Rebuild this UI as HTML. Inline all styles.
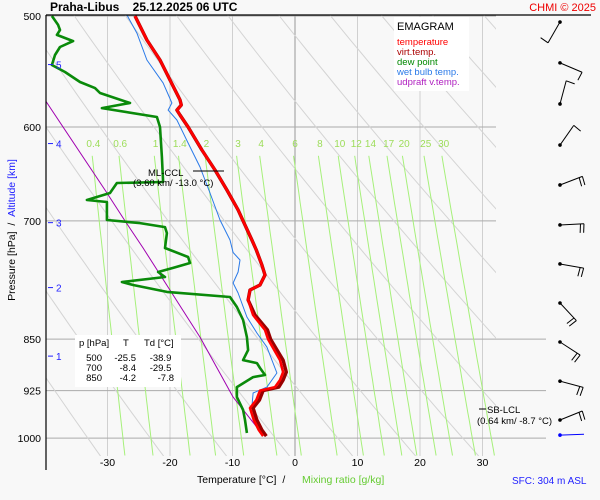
<!DOCTYPE html>
<html><head><meta charset="utf-8"><style>
html,body{margin:0;padding:0;background:#f8f8f8;}
svg{display:block;font-family:"Liberation Sans",sans-serif;}
</style></head><body>
<svg id="chart" width="600" height="500" viewBox="0 0 600 500" xmlns="http://www.w3.org/2000/svg">
<rect x="0" y="0" width="600" height="500" fill="#f8f8f8"/>
<defs><clipPath id="plotclip"><rect x="46" y="15" width="450" height="441"/></clipPath>
<clipPath id="mixclip"><rect x="46" y="150" width="500" height="306"/></clipPath></defs>
<g id="grid"></g>
<g id="series"></g>
<g id="labels"></g>
<text x="50" y="11" font-size="12" font-weight="bold" fill="#000">Praha-Libus&#160;&#160;&#160;&#160;25.12.2025 06 UTC</text>
<text x="596" y="11" font-size="11" fill="#e00" text-anchor="end">CHMI © 2025</text>
<line x1="46" y1="15" x2="591" y2="15" stroke="#000" stroke-width="1.2"/>
<line x1="46" y1="15" x2="46" y2="470" stroke="#000" stroke-width="1.2"/>
<g>
<rect x="394" y="17" width="75" height="74" fill="#fff"/>
<text x="397" y="30" font-size="11" fill="#000">EMAGRAM</text>
<text x="397" y="45" font-size="9.5" fill="#f00">temperature</text>
<text x="397" y="55" font-size="9.5" fill="#a00">virt.temp.</text>
<text x="397" y="65" font-size="9.5" fill="#080">dew point</text>
<text x="397" y="75" font-size="9.5" fill="#2a7ae8">wet bulb temp.</text>
<text x="397" y="85" font-size="9.5" fill="#b020c0">udpraft v.temp.</text>
</g>
<g>
<rect x="75" y="335" width="106" height="52" fill="#fff"/>
<text font-size="9.5" fill="#000"><tspan x="79" y="346">p [hPa]</tspan><tspan x="123" y="346">T</tspan><tspan x="144" y="346">Td [°C]</tspan></text>
<text font-size="9.5" fill="#000" text-anchor="end"><tspan x="102" y="361">500</tspan><tspan x="136" y="361">-25.5</tspan><tspan x="174" y="361">-38.9</tspan>
<tspan x="102" y="371">700</tspan><tspan x="136" y="371">-8.4</tspan><tspan x="174" y="371">-29.5</tspan>
<tspan x="102" y="381">850</tspan><tspan x="136" y="381">-4.2</tspan><tspan x="174" y="381">-7.8</tspan></text>
</g>
<g>
<line x1="193" y1="171" x2="224" y2="171" stroke="#000" stroke-width="1"/>
<text x="148" y="176" font-size="9.5" fill="#000">ML-CCL</text>
<text x="133" y="186" font-size="9.5" fill="#000">(3.60 km/ -13.0 °C)</text>
</g>
<g>
<line x1="479" y1="409" x2="486" y2="409" stroke="#000" stroke-width="1"/>
<text x="487" y="413" font-size="9.5" fill="#000">SB-LCL</text>
<text x="477" y="424" font-size="9.5" fill="#000">(0.64 km/ -8.7 °C)</text>
</g>
<text x="197" y="483" font-size="10.5" fill="#000">Temperature [°C]&#160;&#160;/</text>
<text x="302" y="483" font-size="10.5" fill="#6c3">Mixing ratio [g/kg]</text>
<text x="512" y="484" font-size="10" fill="#22f">SFC: 304 m ASL</text>
<text transform="translate(15,230) rotate(-90)" font-size="10.5" text-anchor="middle"><tspan fill="#000">Pressure [hPa]&#160;&#160;/&#160;&#160;</tspan><tspan fill="#22f">Altitude [km]</tspan></text>
<g id="barbs"></g>
</svg>
<script>
const pressureTicks=[500,600,700,850,925,1000];
const tempTicks=[-30,-20,-10,0,10,20,30];
const mixRatios=[0.4,0.6,1,1.4,2,3,4,6,8,10,12,14,17,20,25,30];
const thetas=[230,240,250,260,270,280,290,300,310,320,330,340,350,360,370,380,390,400];
const altKm=[5,4,3,2,1];
const altP=[541.5,616.5,702,781,874];
const tempP=[500,520.1,537.5,555.4,573.9,578.7,583.5,588.3,600,623.1,643.9,665.4,687.5,700,722.3,734.2,752.6,765,777.7,784.1,797.1,817,837.3,850,879.7,897.2,909.1,919.6,925,939.4,951.8,970.7,986.8,996.6];
const tempT=[-25.6,-23.7,-21.6,-20.0,-18.4,-18.2,-18.9,-18.4,-17.1,-14.9,-12.8,-10.9,-9.1,-8.3,-6.9,-6.2,-5.3,-4.8,-5.6,-7.2,-7.5,-6.7,-4.8,-4.3,-2.4,-1.9,-2.4,-3.2,-5.6,-6.2,-7.2,-6.6,-5.8,-5.1];
const virtT=[-25.6,-23.7,-21.6,-20.0,-18.4,-18.2,-18.9,-18.4,-17.1,-14.9,-12.8,-10.9,-9.1,-8.3,-6.9,-6.2,-5.3,-4.8,-5.6,-7.2,-7.5,-6.4,-4.4,-3.9,-1.9,-1.4,-1.9,-2.6,-5.1,-5.7,-6.7,-6.1,-5.3,-4.6];
const dewP=[500,507.4,511.6,515.8,521,526.1,533.1,541.9,548.2,557.2,562.8,567.4,576.8,581.6,590.2,600,630.3,656.7,657.8,668.6,676.4,678.6,699,702.5,707.1,714.1,731.8,742.7,750.1,756.2,761.2,767.5,773.9,777.7,786.6,793.2,806.3,823.7,847.1,865.4,879.7,884.1,891.3,901.6,904.6,919.6,934.8,954.9,970.7,991.6];
const dewT=[-38.9,-37.9,-37.6,-38.1,-35.5,-37.6,-38.4,-38.9,-36.8,-34.4,-32.0,-31.2,-26.4,-30.9,-22.1,-21.6,-21.3,-21.1,-28.5,-29.6,-33.3,-30.1,-30.1,-24.8,-20.8,-20.5,-20.8,-17.1,-16.8,-19.5,-21.9,-20.8,-27.7,-25.9,-20.5,-10.4,-9.3,-8.3,-7.7,-7.5,-8.3,-6.1,-5.6,-4.8,-6.7,-9.3,-9.3,-8.3,-8.0,-7.7];
const wetP=[499.2,514.2,537.5,558.1,576.8,583.5,593.1,615.9,640.7,668.6,699,722.3,737.3,746.4,761.2,775.1,788,819.7,841.5,861.1,898.6,919.6,928.6,950.2,981.9,991.6];
const wetT=[-26.9,-25.3,-23.7,-21.1,-19.7,-20.3,-18.9,-17.1,-15.2,-13.6,-12.0,-10.4,-9.9,-8.8,-9.1,-9.9,-9.1,-7.7,-6.1,-4.5,-2.9,-4.5,-6.7,-6.9,-6.1,-5.6];
const updP=[560,573.9,665.4,700,731.8,847.1,934.8,995];
const updT=[-41.5,-40.0,-30.4,-27.2,-24.3,-15.2,-9.9,-5.1];
const windP=[505,540,577.7,618,659.9,704.7,751.3,801,854,910.7,970.7,995];
const windDir=[210,113,15,35,69,87,100,137,123,105,68,88];
const windBarbs=[1,1,1,1,2,2,2,2,2,2,2,0];

const NS="http://www.w3.org/2000/svg";
const X=t=>295+6.25*t;
const Y=p=>16+609*Math.log(p/500);
function mk(tag,attrs,parent){const e=document.createElementNS(NS,tag);for(const k in attrs)e.setAttribute(k,attrs[k]);parent.appendChild(e);return e;}
const grid=document.getElementById('grid'),series=document.getElementById('series'),labels=document.getElementById('labels'),barbs=document.getElementById('barbs');

tempTicks.forEach(t=>{
 const l=mk('line',{x1:X(t),x2:X(t),y1:16,y2:456,stroke:t===0?'#999':'#d0d0d0','stroke-width':1},grid);
 
 
 const tx=mk('text',{x:X(t),y:466,'font-size':10.5,'text-anchor':'middle',fill:'#000'},labels);
 tx.textContent=t;
 
 
});
pressureTicks.forEach(p=>{
 const l=mk('line',{x1:46,x2:p>=850?546:496,y1:Y(p),y2:Y(p),stroke:'#aaa','stroke-width':1},grid);
 
 
 const tx=mk('text',{x:41,y:Y(p)+4,'font-size':10.5,'text-anchor':'end',fill:'#000'},labels);
 tx.textContent=p;
 
 
});
const dg=mk('g',{'clip-path':'url(#plotclip)'},grid);
thetas.forEach(th=>{
 let pts=[];for(let p=480;p<=1030;p+=10){const t=th*Math.pow(p/1000,0.286)-273.15;pts.push(X(t).toFixed(1)+','+Y(p).toFixed(1));}
 const l=mk('polyline',{points:pts.join(' '),fill:'none',stroke:'#d4d4d4','stroke-width':1},dg);
 
 
});
const mg=mk('g',{'clip-path':'url(#mixclip)'},grid);
function tdFromW(w,p){const e=w*p/(622+w);const a=Math.log(e/6.112);return 243.5*a/(17.67-a);}
mixRatios.forEach(w=>{
 let pts=[];for(let p=629;p<=1031;p+=10){pts.push(X(tdFromW(w,p)).toFixed(1)+','+Y(p).toFixed(1));}
 const l=mk('polyline',{points:pts.join(' '),fill:'none',stroke:'#a6f07a','stroke-width':1},mg);
 
 
 const tx=mk('text',{x:X(tdFromW(w,640)),y:147,'font-size':10,'text-anchor':'middle',fill:'#9ddd5a'},labels);
 tx.textContent=w;
 
 
});
altKm.forEach((k,i)=>{
 const y=Y(altP[i]);
 const l=mk('line',{x1:48,x2:53,y1:y,y2:y,stroke:'#22f','stroke-width':1},labels);
 
 
 const tx=mk('text',{x:56,y:y+4,'font-size':10,fill:'#22f'},labels);
 tx.textContent=k;
 
 
});
function line(P,T,color,w,name,clip){
 const pts=P.map((p,i)=>X(T[i]).toFixed(1)+','+Y(p).toFixed(1)).join(' ');
 const a={points:pts,fill:'none',stroke:color,'stroke-width':w,'stroke-linejoin':'round'};
 if(clip)a['clip-path']='url(#plotclip)';
 const l=mk('polyline',a,series);
 
 
}
line(updP,updT,'#a000b0',1,'updraft-line',true);
line(wetP,wetT,'#2a7ae8',1,'wet-bulb-line');
line(dewP,dewT,'#0a8a0a',2.6,'dew-point-line');
line(tempP,virtT,'#900',3.4,'virtual-temp-line');
line(tempP,tempT,'#f00',2.6,'temperature-line');
windP.forEach((p,i)=>{
 const cx=560,cy=Y(p);
 const d=windDir[i]*Math.PI/180,len=24;
 const ex=cx+len*Math.sin(d),ey=cy-len*Math.cos(d);
 const col=i===windP.length-1?'#00f':'#000';
 const g=mk('g',{},barbs);
 
 
 mk('circle',{cx:cx,cy:cy,r:1.8,fill:col},g);
 mk('line',{x1:cx,y1:cy,x2:ex,y2:ey,stroke:col,'stroke-width':1},g);
 for(let b=0;b<windBarbs[i];b++){
  const bx=ex-b*3.5*Math.sin(d),by=ey+b*3.5*Math.cos(d);
  const fd=d+Math.PI*95/180;
  mk('line',{x1:bx,y1:by,x2:bx+9*Math.sin(fd),y2:by-9*Math.cos(fd),stroke:col,'stroke-width':1},g);
 }
});
</script>
</body></html>
